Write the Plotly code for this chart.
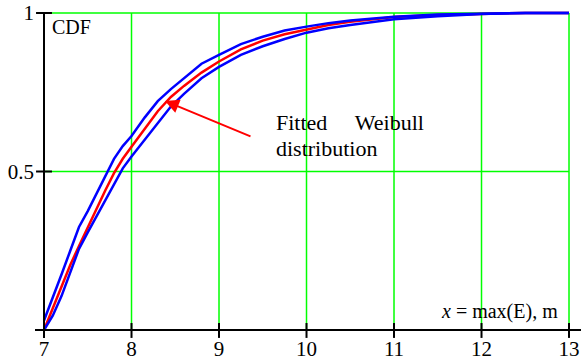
import plotly.graph_objects as go

# ---- data ----
x_vals = [7.0, 7.1, 7.2, 7.3, 7.4, 7.5, 7.6, 7.7, 7.8, 7.9, 8.0, 8.15, 8.3, 8.45, 8.6, 8.8,
          9.0, 9.25, 9.5, 9.75, 10.0, 10.25, 10.5, 10.75, 11.0, 11.5, 12.0, 12.5, 13.0]
cdf_upper = [0.03, 0.10, 0.175, 0.25, 0.325, 0.375, 0.43, 0.49, 0.54, 0.58, 0.612, 0.67, 0.722,
             0.76, 0.795, 0.84, 0.868, 0.902, 0.925, 0.945, 0.957, 0.968, 0.976, 0.983, 0.988,
             0.995, 0.998, 1.0, 1.0]
cdf_fitted = [0.0, 0.07, 0.14, 0.205, 0.265, 0.325, 0.385, 0.44, 0.495, 0.54, 0.578, 0.635,
              0.69, 0.735, 0.77, 0.812, 0.847, 0.885, 0.913, 0.933, 0.947, 0.962, 0.972, 0.98,
              0.987, 0.994, 0.998, 1.0, 1.0]
cdf_lower = [0.0, 0.045, 0.107, 0.181, 0.256, 0.308, 0.358, 0.408, 0.458, 0.51, 0.547, 0.60,
             0.655, 0.705, 0.745, 0.794, 0.83, 0.868, 0.895, 0.918, 0.938, 0.952, 0.962, 0.972,
             0.98, 0.99, 0.997, 1.0, 1.0]

x_ticks = [7, 8, 9, 10, 11, 12, 13]
x_tick_labels = ["7", "8", "9", "10", "11", "12", "13"]
y_ticks = [0, 0.5, 1]
y_tick_labels = ["", "0.5", "1"]

FONT = "Liberation Serif"
BLUE = "#0000FF"
RED = "#FF0000"
GREEN = "#00FF00"

fig = go.Figure()
fig.add_trace(go.Scatter(x=x_vals, y=cdf_fitted, mode="lines",
                         line=dict(color=RED, width=2.5), showlegend=False))
fig.add_trace(go.Scatter(x=x_vals, y=cdf_upper, mode="lines",
                         line=dict(color=BLUE, width=2.5), showlegend=False))
fig.add_trace(go.Scatter(x=x_vals, y=cdf_lower, mode="lines",
                         line=dict(color=BLUE, width=2.5), showlegend=False))

x0, x1 = x_ticks[0], x_ticks[-1]
y0, y1 = y_ticks[0], y_ticks[-1]
shapes = []
# green grid
for xv in x_ticks[1:]:
    shapes.append(dict(type="line", xref="x", yref="y", x0=xv, x1=xv, y0=y0, y1=y1,
                       line=dict(color=GREEN, width=1.5), layer="below"))
for yv in y_ticks[1:]:
    shapes.append(dict(type="line", xref="x", yref="y", x0=x0, x1=x1, y0=yv, y1=yv,
                       line=dict(color=GREEN, width=1.5), layer="below"))
# black axes
shapes.append(dict(type="line", xref="paper", yref="y", x0=0, x1=1, y0=y0, y1=y0,
                   line=dict(color="black", width=2)))
shapes.append(dict(type="line", xref="x", yref="y", x0=x0, x1=x0, y0=-0.024, y1=y1,
                   line=dict(color="black", width=2)))
# crossing tick marks
for xv in x_ticks:
    shapes.append(dict(type="line", xref="x", yref="y", x0=xv, x1=xv, y0=-0.025, y1=0.022,
                       line=dict(color="black", width=2)))
for yv in y_ticks[1:]:
    shapes.append(dict(type="line", xref="x", yref="y", x0=6.909, x1=7.091, y0=yv, y1=yv,
                       line=dict(color="black", width=2)))

annotations = [
    dict(x=7.07, y=0.956, xref="x", yref="y", text="CDF", showarrow=False,
         xanchor="left", yanchor="middle", font=dict(family=FONT, size=20, color="black")),
    dict(x=12.897, y=0.057, xref="x", yref="y", text="<i>x</i> = max(E), m", showarrow=False,
         xanchor="right", yanchor="middle", font=dict(family=FONT, size=20, color="black")),
    dict(x=9.629, y=0.656, xref="x", yref="y",
         text="Fitted" + "\u00a0" * 5 + "Weibull", showarrow=False,
         xanchor="left", yanchor="middle", font=dict(family=FONT, size=22, color="black")),
    dict(x=9.629, y=0.574, xref="x", yref="y", text="distribution", showarrow=False,
         xanchor="left", yanchor="middle", font=dict(family=FONT, size=22, color="black")),
    dict(x=8.383, y=0.7224, xref="x", yref="y", ax=9.377, ay=0.609, axref="x", ayref="y",
         text="", showarrow=True, arrowcolor=RED, arrowwidth=2, arrowhead=2, arrowsize=1.4,
         standoff=0),
]

fig.update_layout(
    width=581, height=360,
    margin=dict(l=35, r=0, t=9, b=21, autoexpand=False),
    plot_bgcolor="white", paper_bgcolor="white",
    font=dict(family=FONT),
    shapes=shapes, annotations=annotations,
    xaxis=dict(range=[6.8971, 13.137], tickvals=x_ticks, ticktext=x_tick_labels,
               showgrid=False, zeroline=False, showline=False, ticks="", automargin=False,
               ticklabelstandoff=-5,
               tickfont=dict(family=FONT, size=21, color="black")),
    yaxis=dict(range=[-0.0284, 1.0126], tickvals=y_ticks, ticktext=y_tick_labels,
               showgrid=False, zeroline=False, showline=False, ticks="", automargin=False,
               tickfont=dict(family=FONT, size=21, color="black")),
)

fig.write_html("out.html", config={"displayModeBar": False},
               post_script="document.body.style.margin='0';document.body.style.padding='0';")
